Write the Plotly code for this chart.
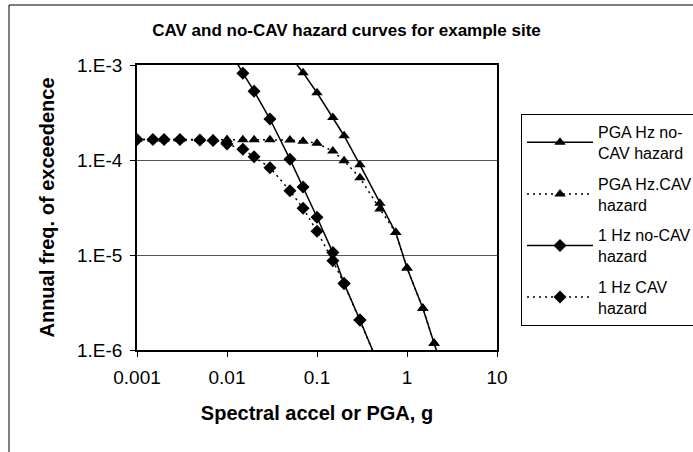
import plotly.graph_objects as go

# ---- data ----
pga_nocav_x = [0.05, 0.07, 0.1, 0.15, 0.2, 0.3, 0.5, 0.75, 1.0, 1.5, 2.0, 3.0]
pga_nocav_y = [1.25e-3, 8.3e-4, 5.1e-4, 2.8e-4, 1.8e-4, 8.9e-5, 3.5e-5, 1.72e-5, 7.3e-6, 2.75e-6, 1.18e-6, 3.7e-7]

pga_cav_x = [0.001, 0.0015, 0.002, 0.003, 0.005, 0.007, 0.01, 0.015, 0.02, 0.03, 0.05,
             0.07, 0.1, 0.15, 0.2, 0.3, 0.5, 0.75, 1.0, 1.5, 2.0, 3.0]
pga_cav_y = [1.65e-4, 1.65e-4, 1.65e-4, 1.65e-4, 1.65e-4, 1.65e-4, 1.64e-4, 1.63e-4, 1.63e-4, 1.63e-4, 1.62e-4,
             1.58e-4, 1.5e-4, 1.24e-4, 9.8e-5, 6.5e-5, 3.05e-5, 1.72e-5, 7.3e-6, 2.75e-6, 1.18e-6, 3.7e-7]

hz1_nocav_x = [0.01, 0.015, 0.02, 0.03, 0.05, 0.07, 0.1, 0.15, 0.2, 0.3, 0.5]
hz1_nocav_y = [1.6e-3, 8.2e-4, 5.3e-4, 2.7e-4, 1.02e-4, 5.2e-5, 2.5e-5, 1.06e-5, 5.0e-6, 2.07e-6, 6.5e-7]

hz1_cav_x = [0.001, 0.0015, 0.002, 0.003, 0.005, 0.007, 0.01, 0.015, 0.02, 0.03, 0.05,
             0.07, 0.1, 0.15, 0.2, 0.3, 0.5]
hz1_cav_y = [1.64e-4, 1.64e-4, 1.64e-4, 1.64e-4, 1.62e-4, 1.6e-4, 1.47e-4, 1.3e-4, 1.08e-4, 8.3e-5, 4.75e-5,
             3.1e-5, 1.78e-5, 8.7e-6, 5.0e-6, 2.07e-6, 6.5e-7]

series_names = ["PGA Hz no-<br>CAV hazard", "PGA Hz.CAV<br>hazard",
                "1 Hz no-CAV<br>hazard", "1 Hz CAV<br>hazard"]

x_tickvals = [0.001, 0.01, 0.1, 1, 10]
x_ticktext = ["0.001", "0.01", "0.1", "1", "10"]
y_tickvals = [1e-6, 1e-5, 1e-4, 1e-3]
y_ticktext = ["1.E-6", "1.E-5", "1.E-4", "1.E-3"]

FONT = "Liberation Sans, Arial, sans-serif"

fig = go.Figure()
specs = [
    (pga_nocav_x, pga_nocav_y, "solid", "triangle-up"),
    (pga_cav_x, pga_cav_y, "2px,4px", "triangle-up"),
    (hz1_nocav_x, hz1_nocav_y, "solid", "diamond"),
    (hz1_cav_x, hz1_cav_y, "2px,4px", "diamond"),
]
for i, ((xs, ys, dash, sym), name) in enumerate(zip(specs, series_names)):
    fig.add_trace(go.Scatter(
        x=xs, y=ys, name=name, mode="lines+markers",
        legendgroup="g%d" % i,
        line=dict(color="black", width=1.5, dash=dash),
        marker=dict(symbol=sym, size=10, color="black"),
        cliponaxis=True,
    ))

fig.update_layout(
    width=693, height=452,
    margin=dict(l=137, r=196, t=65, b=102, autoexpand=False),
    paper_bgcolor="white", plot_bgcolor="white",
    font=dict(family=FONT, color="black"),
    title=dict(text="CAV and no-CAV hazard curves for example site",
               x=0.5, xref="container", xanchor="center",
               y=1 - 30 / 452, yref="container", yanchor="middle",
               font=dict(size=17, weight="bold", family=FONT)),
    legend=dict(x=(521 - 137) / 360, xanchor="left",
                y=(350 - 114) / 285, yanchor="top",
                bordercolor="black", borderwidth=1, bgcolor="white",
                font=dict(size=16, family=FONT), itemwidth=66,
                tracegroupgap=7),
    showlegend=True,
)

fig.update_xaxes(
    type="log", range=[-3, 1],
    tickvals=x_tickvals, ticktext=x_ticktext,
    showgrid=False, zeroline=False,
    showline=True, linecolor="black", linewidth=1.5, mirror=True,
    ticks="outside", ticklen=5, tickcolor="black",
    ticklabelstandoff=4,
    tickfont=dict(size=19, family=FONT),
    title=dict(text="Spectral accel or PGA, g", standoff=19,
               font=dict(size=20, weight="bold", family=FONT)),
)
fig.update_yaxes(
    type="log", range=[-6, -3],
    tickvals=y_tickvals, ticktext=y_ticktext,
    showgrid=True, gridcolor="#555555", gridwidth=1,
    zeroline=False,
    showline=True, linecolor="black", linewidth=1.5, mirror=True,
    ticks="outside", ticklen=5, tickcolor="black",
    ticklabelstandoff=4,
    tickfont=dict(size=19, family=FONT),
    title=dict(text="Annual freq. of exceedence", standoff=17,
               font=dict(size=20, weight="bold", family=FONT)),
)

# outer chart-area border (only left and top edges fall inside the picture)
fig.add_shape(type="rect", xref="paper", yref="paper",
              x0=(9 - 137) / 360, x1=(2000 - 137) / 360,
              y0=(350 - 2000) / 285, y1=(350 - 5) / 285,
              line=dict(color="black", width=1), fillcolor="rgba(0,0,0,0)",
              layer="below")

fig.write_html("out.html")
